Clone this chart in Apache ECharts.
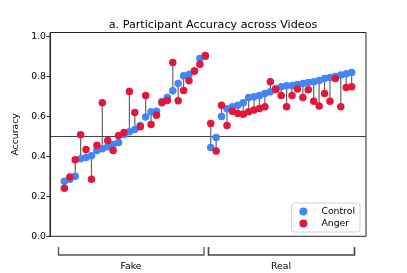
<!DOCTYPE html>
<html>
<head>
<meta charset="utf-8">
<script src="https://cdn.jsdelivr.net/npm/echarts@6/dist/echarts.min.js"></script>
<style>html,body{margin:0;padding:0;background:#fff;}#c{width:407px;height:273px;}</style>
</head>
<body>
<div id="c"></div>
<script>
const groups = ['Fake', 'Real'];
const fakeControl = [0.275,0.285,0.30,0.388,0.395,0.403,0.43,0.438,0.448,0.46,0.47,0.51,0.523,0.535,0.555,0.597,0.623,0.626,0.675,0.695,0.728,0.765,0.803,0.81,0.828,0.89,0.90];
const fakeAnger   = [0.24,0.297,0.383,0.508,0.435,0.286,0.456,0.668,0.48,0.43,0.505,0.52,0.725,0.62,0.548,0.705,0.56,0.606,0.668,0.68,0.87,0.678,0.73,0.778,0.826,0.861,0.905];
const realControl = [0.445,0.495,0.60,0.638,0.648,0.656,0.668,0.695,0.698,0.705,0.715,0.723,0.74,0.748,0.753,0.755,0.76,0.765,0.77,0.773,0.78,0.79,0.795,0.80,0.807,0.813,0.82];
const realAnger   = [0.565,0.427,0.656,0.555,0.626,0.615,0.611,0.623,0.632,0.64,0.648,0.773,0.735,0.705,0.648,0.705,0.737,0.695,0.733,0.676,0.652,0.715,0.676,0.79,0.648,0.745,0.748];
const yTicks = [0, 0.2, 0.4, 0.6, 0.8, 1.0];
const chanceLevel = 0.5;

const control = fakeControl.concat(realControl);
const anger = fakeAnger.concat(realAnger);
const controlData = control.map((v, i) => [i, v]);
const angerData = anger.map((v, i) => [i, v]);
const pairData = control.map((v, i) => [i, v, anger[i]]);
const font = 'DejaVu Sans';

const chart = echarts.init(document.getElementById('c'), null, {renderer: 'canvas'});
chart.setOption({
  animation: false,
  backgroundColor: '#fff',
  title: {
    text: 'a. Participant Accuracy across Videos',
    left: 208, top: 15, textAlign: 'center',
    textStyle: {fontFamily: font, fontSize: 11.2, fontWeight: 'normal', color: '#000'}
  },
  grid: {left: 50, right: 41, top: 32.5, bottom: 36.7, show: true, borderColor: '#222', borderWidth: 1, backgroundColor: 'transparent'},
  legend: {
    data: ['Control', 'Anger'],
    orient: 'vertical', right: 47, bottom: 41,
    icon: 'circle', itemWidth: 8, itemHeight: 8, itemGap: 3,
    padding: [4, 5, 4, 8],
    backgroundColor: '#fff', borderColor: '#d0d0d0', borderWidth: 1, borderRadius: 3,
    textStyle: {fontFamily: font, fontSize: 9.3, color: '#000', padding: [0, 0, 0, 9]}
  },
  xAxis: {type: 'value', min: -2.65, max: 55.65, show: false},
  yAxis: {
    type: 'value', min: 0, max: 1.02,
    name: 'Accuracy', nameLocation: 'middle', nameRotate: 90, nameGap: 21,
    nameTextStyle: {fontFamily: font, fontSize: 9.3, color: '#000'},
    axisLine: {show: true, onZero: false, lineStyle: {color: '#222'}},
    axisTick: {show: true, length: 3.5, lineStyle: {color: '#222'}, customValues: yTicks},
    axisLabel: {fontFamily: font, fontSize: 9.3, color: '#000', margin: 4, customValues: yTicks, formatter: v => v.toFixed(1)},
    splitLine: {show: false}
  },
  series: [
    {
      type: 'custom', name: 'pairs', data: pairData, z: 1, silent: true,
      renderItem: (params, api) => {
        const x = api.value(0);
        const p1 = api.coord([x, api.value(1)]);
        const p2 = api.coord([x, api.value(2)]);
        return {type: 'line', shape: {x1: p1[0], y1: p1[1], x2: p2[0], y2: p2[1]}, style: {stroke: '#666', lineWidth: 1.2}};
      }
    },
    {
      type: 'scatter', name: 'Control', data: controlData, symbolSize: 7.5, itemStyle: {color: '#4285f4', opacity: 1}, z: 2,
      markLine: {
        silent: true, symbol: 'none', label: {show: false}, z: 0,
        lineStyle: {color: '#444', width: 1, type: 'solid'},
        data: [{yAxis: chanceLevel}]
      }
    },
    {type: 'scatter', name: 'Anger', data: angerData, symbolSize: 7.5, itemStyle: {color: '#e3173b', opacity: 1}, z: 3}
  ],
  graphic: [
    {type: 'polyline', shape: {points: [[58.5, 247], [58.5, 255], [204, 255], [204, 247]]}, style: {stroke: '#555', lineWidth: 1.3, fill: null}},
    {type: 'polyline', shape: {points: [[208.5, 247], [208.5, 255], [354.5, 255], [354.5, 247]]}, style: {stroke: '#444', lineWidth: 1.6, fill: null}},
    {type: 'text', x: 131, y: 267, style: {text: groups[0], font: '9.3px "DejaVu Sans"', fill: '#000', textAlign: 'center', textVerticalAlign: 'middle'}},
    {type: 'text', x: 281, y: 267, style: {text: groups[1], font: '9.3px "DejaVu Sans"', fill: '#000', textAlign: 'center', textVerticalAlign: 'middle'}}
  ]
});
</script>
</body>
</html>
